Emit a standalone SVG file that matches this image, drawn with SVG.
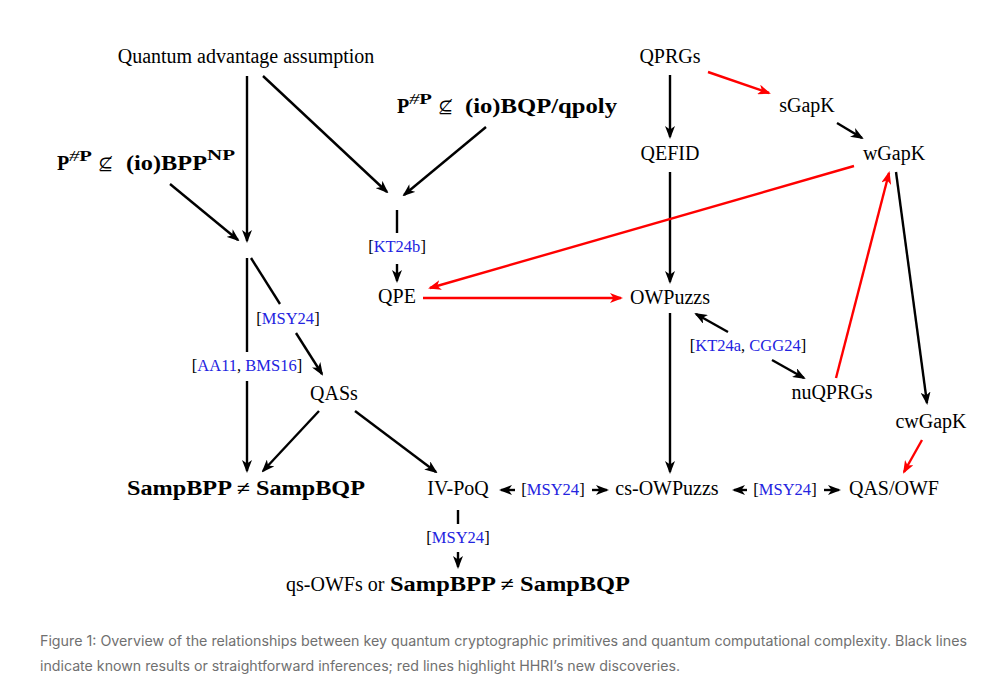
<svg xmlns="http://www.w3.org/2000/svg" width="998" height="693" viewBox="0 0 998 693">
<style>
.t{font-family:"Liberation Serif","Times New Roman",serif;font-size:20px;fill:#000}
.b{font-family:"Liberation Serif","Times New Roman",serif;font-size:20px;font-weight:bold;fill:#000}
.sup{font-family:"Liberation Serif","Times New Roman",serif;font-size:14px;font-weight:bold;fill:#000}
.m{font-family:"DejaVu Serif","Liberation Serif",serif;font-size:18px;fill:#000}
.l{font-family:"Liberation Serif","Times New Roman",serif;font-size:16.5px;fill:#000}
.c{font-family:"Liberation Serif","Times New Roman",serif;fill:#2323e0}
.cap{font-family:Inter,"Noto Sans",sans-serif;font-size:14px;fill:#707070}
.k{stroke:#000;stroke-width:2.4;fill:none}
.r{stroke:#ff0000;stroke-width:2.4;fill:none}
.ka{marker-end:url(#ah)}
.ra{marker-end:url(#rh)}
</style>
<defs>
<marker id="ah" viewBox="0 0 13 10" markerWidth="13" markerHeight="10" refX="11" refY="5" orient="auto" markerUnits="userSpaceOnUse">
<path d="M0,0 L13,5 L0,10 L3.5,5 Z" fill="#000"/>
</marker>
<marker id="rh" viewBox="0 0 13 10" markerWidth="13" markerHeight="10" refX="11" refY="5" orient="auto" markerUnits="userSpaceOnUse">
<path d="M0,0 L13,5 L0,10 L3.5,5 Z" fill="#ff0000"/>
</marker>
</defs>
<rect width="998" height="693" fill="#fff"/>

<g id="connectors">
<line class="k ka" x1="247" y1="76" x2="247" y2="241"/>
<line class="k ka" x1="263" y1="76" x2="387" y2="192"/>
<line class="k ka" x1="170" y1="184" x2="238" y2="240"/>
<line class="k ka" x1="486" y1="127" x2="404" y2="195"/>
<line class="k" x1="397" y1="210" x2="397" y2="233"/>
<line class="k ka" x1="397" y1="264" x2="397" y2="281"/>
<line class="k" x1="247" y1="258" x2="247" y2="352"/>
<line class="k ka" x1="247" y1="381" x2="247" y2="471"/>
<line class="k" x1="251" y1="258" x2="280" y2="304"/>
<line class="k ka" x1="296" y1="333" x2="322" y2="374"/>
<line class="k ka" x1="319" y1="411" x2="263" y2="471"/>
<line class="k ka" x1="355" y1="411" x2="436" y2="472"/>
<line class="k ka" x1="515" y1="490" x2="501" y2="490"/>
<line class="k ka" x1="592" y1="490" x2="607" y2="490"/>
<line class="k ka" x1="747" y1="490" x2="734" y2="490"/>
<line class="k ka" x1="824" y1="490" x2="839" y2="490"/>
<line class="k" x1="458" y1="510" x2="458" y2="524"/>
<line class="k ka" x1="458" y1="552" x2="458" y2="567"/>
<line class="k ka" x1="670" y1="75" x2="670" y2="137"/>
<line class="k ka" x1="670" y1="172" x2="670" y2="282"/>
<line class="k ka" x1="670" y1="313" x2="670" y2="472"/>
<line class="r ra" x1="708" y1="72" x2="769" y2="93"/>
<line class="k ka" x1="837" y1="123" x2="862" y2="138"/>
<line class="r ra" x1="854" y1="166" x2="430" y2="288"/>
<line class="r ra" x1="423" y1="298" x2="621" y2="298"/>
<line class="r ra" x1="836" y1="378" x2="889" y2="173"/>
<line class="k ka" x1="896" y1="172" x2="927" y2="403"/>
<line class="r ra" x1="922" y1="440" x2="904" y2="472"/>
<line class="k ka" x1="728" y1="332" x2="696" y2="314"/>
<line class="k ka" x1="772" y1="360" x2="804" y2="378"/>
</g>

<g id="qaa"><text class="t" x="246" y="63" text-anchor="middle">Quantum advantage assumption</text></g>
<g id="pbppnp">
<text class="b" x="57" y="170">P</text>
<text class="sup" x="69" y="161" textLength="23" lengthAdjust="spacingAndGlyphs"><tspan font-weight="normal" font-style="italic">#</tspan>P</text>
<text class="m" x="98" y="170">⊈</text>
<text class="b" x="126" y="170" textLength="81" lengthAdjust="spacingAndGlyphs">(io)BPP</text>
<text class="sup" x="207" y="160" textLength="28" lengthAdjust="spacingAndGlyphs">NP</text>
</g>
<g id="pbqp">
<text class="b" x="397" y="113">P</text>
<text class="sup" x="409" y="104" textLength="23" lengthAdjust="spacingAndGlyphs"><tspan font-weight="normal" font-style="italic">#</tspan>P</text>
<text class="m" x="438" y="113">⊈</text>
<text class="b" x="465" y="113" textLength="152" lengthAdjust="spacingAndGlyphs">(io)BQP/qpoly</text>
</g>
<g id="qprgs"><text class="t" x="670" y="63" text-anchor="middle">QPRGs</text></g>
<g id="sgapk"><text class="t" x="807" y="112" text-anchor="middle">sGapK</text></g>
<g id="qefid"><text class="t" x="670" y="160" text-anchor="middle">QEFID</text></g>
<g id="wgapk"><text class="t" x="894" y="160" text-anchor="middle">wGapK</text></g>
<g id="kt24b"><text class="l" x="397" y="252" text-anchor="middle">[<tspan class="c">KT24b</tspan>]</text></g>
<g id="qpe"><text class="t" x="397" y="303" text-anchor="middle">QPE</text></g>
<g id="owpuzzs"><text class="t" x="670" y="304" text-anchor="middle">OWPuzzs</text></g>
<g id="msy24a"><text class="l" x="288" y="324" text-anchor="middle">[<tspan class="c">MSY24</tspan>]</text></g>
<g id="aa11"><text class="l" x="247" y="371" text-anchor="middle">[<tspan class="c">AA11</tspan>, <tspan class="c">BMS16</tspan>]</text></g>
<g id="kt24a"><text class="l" x="748" y="351" text-anchor="middle">[<tspan class="c">KT24a</tspan>, <tspan class="c">CGG24</tspan>]</text></g>
<g id="qass"><text class="t" x="334" y="400" text-anchor="middle">QASs</text></g>
<g id="nuqprgs"><text class="t" x="832" y="399" text-anchor="middle">nuQPRGs</text></g>
<g id="cwgapk"><text class="t" x="931" y="428" text-anchor="middle">cwGapK</text></g>
<g id="sampneq"><text class="b" x="127" y="495" textLength="238" lengthAdjust="spacingAndGlyphs">SampBPP ≠ SampBQP</text></g>
<g id="ivpoq"><text class="t" x="458" y="495" text-anchor="middle">IV-PoQ</text></g>
<g id="msy24b"><text class="l" x="553" y="495" text-anchor="middle">[<tspan class="c">MSY24</tspan>]</text></g>
<g id="csowpuzzs"><text class="t" x="667" y="495" text-anchor="middle">cs-OWPuzzs</text></g>
<g id="msy24c"><text class="l" x="785" y="495" text-anchor="middle">[<tspan class="c">MSY24</tspan>]</text></g>
<g id="qasowf"><text class="t" x="894" y="495" text-anchor="middle">QAS/OWF</text></g>
<g id="msy24d"><text class="l" x="458" y="543" text-anchor="middle">[<tspan class="c">MSY24</tspan>]</text></g>
<g id="qsowfs">
<text class="t" x="286" y="591">qs-OWFs or</text>
<text class="b" x="390" y="591" textLength="240" lengthAdjust="spacingAndGlyphs">SampBPP ≠ SampBQP</text>
</g>
<g id="caption">
<text class="cap" x="40" y="646" textLength="927" lengthAdjust="spacingAndGlyphs">Figure 1: Overview of the relationships between key quantum cryptographic primitives and quantum computational complexity. Black lines</text>
<text class="cap" x="40" y="671" textLength="640" lengthAdjust="spacingAndGlyphs">indicate known results or straightforward inferences; red lines highlight HHRI’s new discoveries.</text>
</g>
</svg>
